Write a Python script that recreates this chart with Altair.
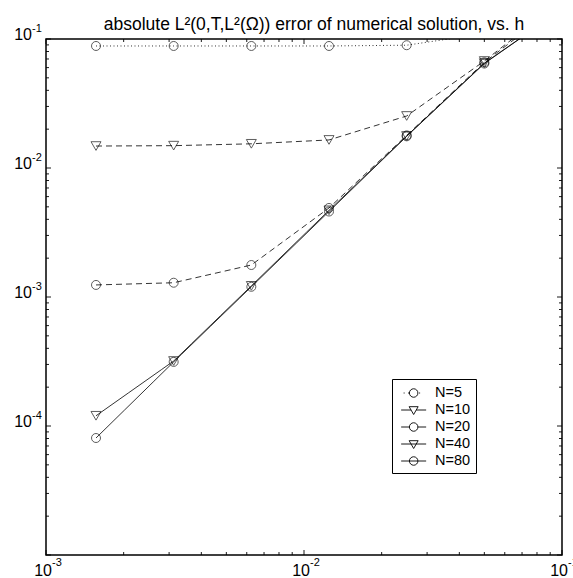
import altair as alt
import pandas as pd

# ---- data ----
h_values = [1/640, 1/320, 1/160, 1/80, 1/40, 1/20, 1/10]
series_names = ["N=5", "N=10", "N=20", "N=40", "N=80"]
err_N5 = [0.0883, 0.0883, 0.0883, 0.0883, 0.0895, 0.11, 0.2]
err_N10 = [0.0148, 0.0149, 0.0154, 0.0165, 0.0253, 0.0675, 0.2]
err_N20 = [0.00124, 0.00129, 0.00177, 0.0049, 0.0179, 0.066, 0.19]
err_N40 = [0.000120, 0.000319, 0.00122, 0.0047, 0.0177, 0.065, 0.17]
err_N80 = [0.0000807, 0.000314, 0.00120, 0.0046, 0.0176, 0.0645, 0.17]
marker_kind = ["circle", "triangle-down", "circle", "triangle-down", "circle"]
line_kind = ["dotted", "dashed", "dashed", "solid", "solid"]

x_major = [1e-3, 1e-2, 1e-1]
x_major_exp = ["-3", "-2", "-1"]
x_minor = [2e-3, 3e-3, 4e-3, 5e-3, 6e-3, 7e-3, 8e-3, 9e-3,
           2e-2, 3e-2, 4e-2, 5e-2, 6e-2, 7e-2, 8e-2, 9e-2]
y_major = [1e-5, 1e-4, 1e-3, 1e-2, 1e-1]
y_label_ticks = [1e-4, 1e-3, 1e-2, 1e-1]
y_label_exp = ["-4", "-3", "-2", "-1"]
y_minor = [m * d for d in [1e-5, 1e-4, 1e-3, 1e-2] for m in [2, 3, 4, 5, 6, 7, 8, 9]]

title_text = "absolute L\u00b2(0,T,L\u00b2(\u03a9)) error of numerical solution, vs. h"

# ---- tables ----
all_err = [err_N5, err_N10, err_N20, err_N40, err_N80]
rows = []
for name, errs, mk, lk in zip(series_names, all_err, marker_kind, line_kind):
    for hv, ev in zip(h_values, errs):
        rows.append({"h": hv, "err": ev, "series": name, "marker": mk, "style": lk})
df = pd.DataFrame(rows)

xmaj_df = pd.DataFrame({"t": x_major, "e": x_major_exp})
xmin_df = pd.DataFrame({"t": x_minor})
ymaj_df = pd.DataFrame({"t": y_major})
ymin_df = pd.DataFrame({"t": y_minor})
ylab_df = pd.DataFrame({"t": y_label_ticks, "e": y_label_exp})
title_df = pd.DataFrame({"title": [title_text]})

W, H = 516, 516
FONT = "Liberation Sans"

xs = alt.Scale(type="log", domain=[1e-3, 1e-1], nice=False)
ys = alt.Scale(type="log", domain=[1e-5, 1e-1], nice=False)

X = alt.X("h:Q", scale=xs, axis=None)
Y = alt.Y("err:Q", scale=ys, axis=None)

lines = alt.Chart(df).mark_line(clip=True, strokeWidth=0.8, color="black").encode(
    x=X, y=Y,
    detail="series:N",
    strokeDash=alt.StrokeDash("style:N",
                              scale=alt.Scale(domain=["dotted", "dashed", "solid"],
                                              range=[[1, 2.5], [6, 4], [40, 0]]),
                              legend=None),
)

points = alt.Chart(df).mark_point(clip=True, strokeWidth=0.9, color="black", filled=False).encode(
    x=X, y=Y,
    shape=alt.Shape("marker:N",
                    scale=alt.Scale(domain=["circle", "triangle-down"],
                                    range=["circle", "triangle-down"]),
                    legend=None),
    size=alt.Size("marker:N",
                  scale=alt.Scale(domain=["circle", "triangle-down"], range=[81, 100]),
                  legend=None),
)

# legend symbols: line sample + marker (shifted right by 0.9 unit)
c = 0.9
circ = f"M{c+0.5},0 A0.5,0.5 0 1 1 {c-0.5},0 A0.5,0.5 0 1 1 {c+0.5},0"
tri = f"M{c-0.53},-0.39 L{c+0.53},-0.39 L{c},0.53 Z"
L, R = c - 1.47, c + 1.47
legend_paths = [
    f"M{c-1.18},0 L{c-1.06},0 M{c-0.66},0 L{c-0.54},0 M{c+0.64},0 L{c+0.76},0 " + circ,
    f"M{L},0 L{c-0.3},0 M{c+0.3},0 L{R},0 " + tri,
    f"M{L},0 L{c-0.5},0 M{c+0.5},0 L{R},0 " + circ,
    f"M{L},0 L{R},0 " + tri,
    f"M{L},0 L{R},0 " + circ,
]

EM = "\u2003"
legend_layer = alt.Chart(df).mark_point(opacity=0, filled=False, color="black").encode(
    x=X, y=Y,
    shape=alt.Shape("series:N",
                    scale=alt.Scale(domain=series_names, range=legend_paths),
                    legend=alt.Legend(
                        title=None, orient="none", legendX=346, legendY=340,
                        symbolSize=289, symbolOpacity=1, symbolStrokeColor="black",
                        symbolFillColor="transparent", symbolStrokeWidth=0.9,
                        labelFont=FONT, labelFontSize=14.5, labelColor="black",
                        labelOffset=20, rowPadding=1, padding=5,
                        labelExpr="datum.label + '" + EM + "'",
                        strokeColor="black", fillColor="white",
                    )),
)

def tick_layer(data, horizontal, a, b):
    if horizontal:  # ticks on x axis
        return alt.Chart(data).mark_rule(color="black", strokeWidth=0.9).encode(
            x=alt.X("t:Q", scale=xs, axis=None), y=alt.value(a), y2=alt.value(b))
    return alt.Chart(data).mark_rule(color="black", strokeWidth=0.9).encode(
        y=alt.Y("t:Q", scale=ys, axis=None), x=alt.value(a), x2=alt.value(b))

MAJ, MIN = 5, 3
ticks = [
    tick_layer(xmaj_df, True, H, H - MAJ),
    tick_layer(xmaj_df, True, 0, MAJ),
    tick_layer(xmin_df, True, H, H - MIN),
    tick_layer(xmin_df, True, 0, MIN),
    tick_layer(ymaj_df, False, 0, MAJ),
    tick_layer(ymaj_df, False, W, W - MAJ),
    tick_layer(ymin_df, False, 0, MIN),
    tick_layer(ymin_df, False, W, W - MIN),
]

xlab_base = alt.Chart(xmaj_df).mark_text(font=FONT, fontSize=16, align="right", baseline="middle",
                                          dx=6, color="black").encode(
    x=alt.X("t:Q", scale=xs, axis=None), y=alt.value(H + 16), text=alt.value("10"))
xlab_exp = alt.Chart(xmaj_df).mark_text(font=FONT, fontSize=11, align="left", baseline="middle",
                                         dx=6, color="black").encode(
    x=alt.X("t:Q", scale=xs, axis=None), y=alt.value(H + 8), text="e:N")
ylab_base = alt.Chart(ylab_df).mark_text(font=FONT, fontSize=16, align="right", baseline="middle",
                                          dy=-4, color="black").encode(
    y=alt.Y("t:Q", scale=ys, axis=None), x=alt.value(-14), text=alt.value("10"))
ylab_exp = alt.Chart(ylab_df).mark_text(font=FONT, fontSize=11, align="left", baseline="middle",
                                         dy=-10, color="black").encode(
    y=alt.Y("t:Q", scale=ys, axis=None), x=alt.value(-14), text="e:N")

title_mark = alt.Chart(title_df).mark_text(font=FONT, fontSize=17.5, align="center",
                                           baseline="alphabetic", color="black").encode(
    x=alt.value(W / 2 + 10), y=alt.value(-9), text="title:N")

chart = alt.layer(
    lines, points, legend_layer, *ticks, xlab_base, xlab_exp, ylab_base, ylab_exp, title_mark
).resolve_scale(shape="independent", size="independent").resolve_legend(
    shape="independent"
).properties(
    width=W, height=H,
    autosize=alt.AutoSizeParams(type="none"),
    padding={"left": 46, "top": 39, "right": 11, "bottom": 23},
    background="white",
).configure_view(stroke="black", strokeWidth=1.5)

chart.save("out.html", embed_options={"renderer": "svg", "actions": False})
